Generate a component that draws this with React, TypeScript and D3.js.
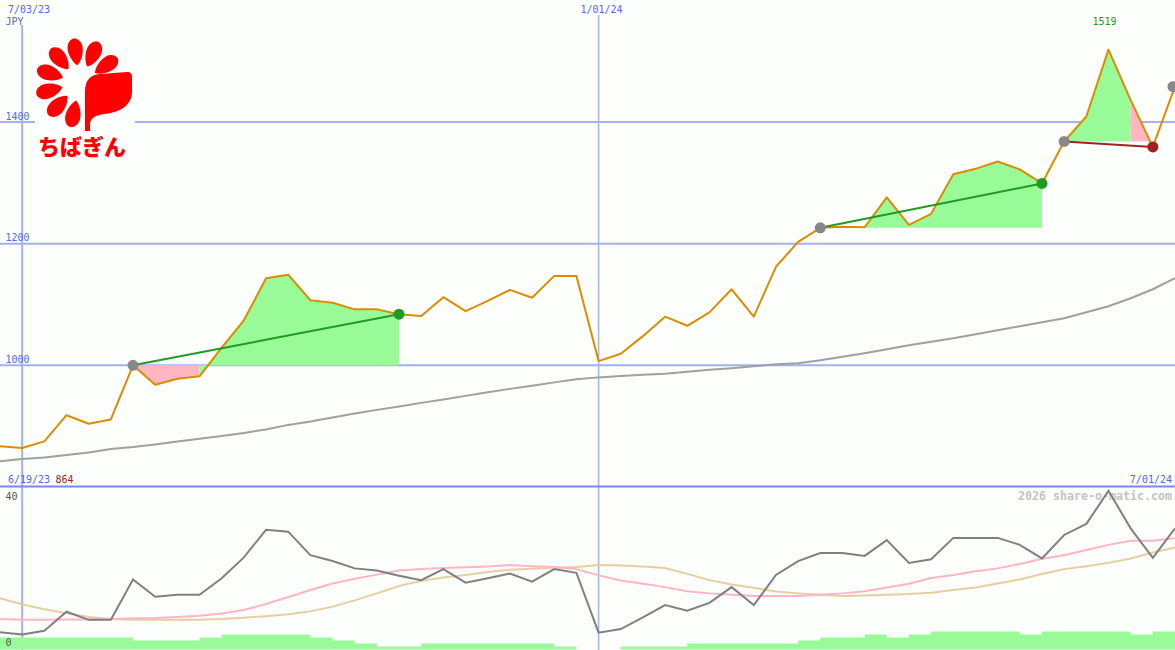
import React from 'react';
import * as d3 from 'd3';

const W = 1175;
const H = 650;

// weekly closes, 6/26/23 .. 7/01/24
const price = [
  867, 864, 875, 918, 904, 911, 1000, 968, 978, 982,
  1029, 1074, 1143, 1149, 1107, 1103, 1092, 1092, 1084, 1081,
  1112, 1089, 1106, 1124, 1111, 1147, 1147, 1007, 1019, 1048,
  1080, 1065, 1087, 1125, 1080, 1162, 1203, 1226, 1228, 1227,
  1276, 1231, 1249, 1314, 1323, 1335, 1322, 1299, 1368, 1409,
  1519, 1436, 1359, 1458,
];

// long moving average of the price (grey)
const priceMa = [
  842.5, 846.1, 848.6, 852.7, 856.8, 862.6, 865.9, 870.0, 874.9, 879.3,
  884.0, 888.9, 894.7, 902.1, 907.8, 914.4, 921.0, 926.8, 932.5, 938.3,
  944.0, 949.8, 955.6, 961.3, 966.3, 972.0, 977.0, 980.2, 982.4, 984.4,
  986.0, 989.3, 992.6, 995.1, 998.4, 1001.6, 1003.3, 1008.2, 1014.0, 1019.8,
  1026.3, 1032.9, 1038.7, 1044.4, 1051.0, 1057.6, 1064.2, 1070.8, 1077.4, 1087.2,
  1097.1, 1110.3, 1125.1, 1143.2,
];

// volume level per week
const volume = [
  4, 4, 4, 4, 4, 4, 3, 3, 3, 4,
  5, 5, 5, 5, 4, 3, 2, 1, 1, 2,
  2, 2, 2, 2, 2, 1, 0, 0, 1, 1,
  1, 2, 2, 2, 2, 2, 3, 4, 4, 5,
  4, 5, 6, 6, 6, 6, 5, 6, 6, 6,
  6, 5, 6, 6,
];

// lower indicator (grey) and its two averages (pink, tan)
const ind = [
  4.4, 3.8, 4.8, 10.0, 7.8, 7.8, 18.8, 14.1, 14.6, 14.6,
  19.1, 24.8, 32.3, 31.8, 25.4, 23.8, 21.8, 21.2, 19.8, 18.6,
  21.6, 17.9, 19.1, 20.4, 18.2, 21.6, 20.6, 4.3, 5.3, 8.5,
  11.8, 10.3, 12.4, 16.7, 11.8, 20.0, 23.8, 26.0, 26.0, 25.2,
  29.5, 23.3, 24.3, 30.1, 30.1, 30.1, 28.2, 24.5, 30.9, 33.9,
  42.9, 32.7, 24.7, 32.7,
];
const indMaFast = [
  8.0, 7.8, 7.8, 7.9, 7.9, 8.0, 8.2, 8.3, 8.6, 8.9,
  9.5, 10.5, 12.1, 14.0, 15.9, 17.7, 19.0, 20.1, 21.2, 21.6,
  21.9, 22.1, 22.3, 22.7, 22.4, 22.2, 21.6, 19.9, 18.5, 17.6,
  16.7, 15.6, 15.0, 14.6, 14.3, 14.3, 14.3, 14.6, 15.0, 15.6,
  16.6, 17.6, 19.2, 20.0, 21.0, 21.8, 23.0, 24.4, 25.4, 26.8,
  28.2, 29.3, 29.3, 30.0,
];
const indMaSlow = [
  13.7, 12.0, 10.7, 9.6, 8.6, 8.0, 7.8, 7.8, 7.8, 7.8,
  8.0, 8.4, 8.8, 9.3, 10.1, 11.4, 13.1, 15.0, 17.0, 18.4,
  19.3, 20.0, 20.8, 21.4, 21.7, 22.0, 22.2, 22.7, 22.6, 22.3,
  21.9, 20.3, 18.6, 17.4, 16.5, 15.5, 15.0, 14.6, 14.3, 14.4,
  14.6, 14.8, 15.2, 15.9, 16.6, 17.7, 18.8, 20.3, 21.6, 22.4,
  23.3, 24.5, 26.1, 27.5,
];

const priceTicks = [1000, 1200, 1400];
const indTicks = [0, 40];
const dateMarks = [
  { idx: 1, label: '7/03/23' },
  { idx: 27, label: '1/01/24' },
];
const segments = [
  { start: 6, end: 18 },
  { start: 37, end: 47 },
  { start: 48, end: 52 },
];
const openPoint = 53;
const peakIdx = 50;
const startLabel = '6/19/23';
const minLabel = '864';
const endLabel = '7/01/24';
const currency = 'JPY';
const watermark = '2026 share-o-matic.com';
const logoText = 'ちばぎん';

const BG = '#fbfefb';
const GRID = '#a5b0f3';
const BLUE_TXT = '#5566ee';
const MONO = '"DejaVu Sans Mono", "Liberation Mono", monospace';
const GREEN_FILL = '#98fb98';
const PINK_FILL = '#ffb6c1';

const PETAL = 'M0,13 C-4,10 -8,2 -7.5,-5 C-7,-11 -3,-14 0,-14 C3,-14 7,-11 7.5,-5 C8,2 4,10 0,13 Z';

export default function App() {
  const x = d3.scaleLinear().domain([0, price.length - 1]).range([0, W]);
  const y = d3.scaleLinear().domain([800, 1400]).range([487, 122]);
  const yi = d3.scaleLinear().domain([0, 40]).range([648.5, 501.5]);
  const yv = d3.scaleLinear().domain([0, 6]).range([649.5, 631.5]);

  const priceLine = d3.line<number>().x((_, i) => x(i)).y((d) => y(d));
  const indLine = d3.line<number>().x((_, i) => x(i)).y((d) => yi(d));
  const volArea = d3
    .area<number>()
    .curve(d3.curveStepAfter)
    .x((_, i) => x(i))
    .y0(yv(0))
    .y1((d) => yv(d));

  // fills for each trend segment: consecutive weeks of the same colour merged
  const fills: { d: string; color: string }[] = [];
  segments.forEach((s) => {
    const base = price[s.start];
    let run: number[] = [s.start];
    let runColor = price[s.start + 1] >= base ? GREEN_FILL : PINK_FILL;
    const flush = () => {
      const a = d3
        .area<number>()
        .x((k) => x(k))
        .y0(y(base))
        .y1((k) => y(price[k]));
      fills.push({ d: a(run) || '', color: runColor });
    };
    for (let i = s.start; i < s.end; i++) {
      const c = price[i + 1] >= base ? GREEN_FILL : PINK_FILL;
      if (c !== runColor) {
        flush();
        run = [i];
        runColor = c;
      }
      run.push(i + 1);
    }
    flush();
  });

  // logo geometry
  const fc = { x: 80, y: 83 };
  const petalAngles = d3.range(8).map((k) => -34 - 32 * k);

  return (
    <svg
      width={W}
      height={H}
      style={{ position: 'absolute', left: 0, top: 0, background: BG }}
      xmlns="http://www.w3.org/2000/svg"
    >
      <rect x={0} y={0} width={W} height={H} fill={BG} />

      {/* horizontal grid */}
      {priceTicks.map((t) => (
        <line key={t} x1={0} x2={W} y1={y(t)} y2={y(t)} stroke={GRID} strokeWidth={2} />
      ))}
      {/* vertical date lines */}
      {dateMarks.map((m, k) => (
        <line
          key={m.label}
          x1={x(m.idx)}
          x2={x(m.idx)}
          y1={k === 0 ? 25 : 15}
          y2={H}
          stroke={GRID}
          strokeWidth={k === 0 ? 2 : 1.5}
        />
      ))}

      {/* logo */}
      <rect x={35} y={30} width={100} height={132} fill={BG} />
      <g fill="#ff0000">
        {petalAngles.map((a) => {
          const r = (a * Math.PI) / 180;
          const cx = fc.x + 31 * Math.cos(r);
          const cy = fc.y + 31 * Math.sin(r);
          return <path key={a} d={PETAL} transform={`translate(${cx} ${cy}) rotate(${a + 90})`} />;
        })}
        <path d="M85,131 L85,92 C85,80 90,75 100,74 L127,72 C131,72 132,74 132,77 L132,92 C132,106 118,113 104,114 C96,115 91,118 90,123 L90,131 Z" />
        <text
          x={38}
          y={155}
          fontFamily='"Noto Sans CJK JP", sans-serif'
          fontWeight={900}
          fontSize={22}
          fill="#ff0000"
        >
          {logoText}
        </text>
      </g>

      {/* trend fills */}
      {fills.map((f, k) => (
        <path key={k} d={f.d} fill={f.color} stroke="none" />
      ))}

      {/* price MA */}
      <path d={priceLine(priceMa) || ''} fill="none" stroke="#a0a0a0" strokeWidth={2} />
      {/* price */}
      <path d={priceLine(price) || ''} fill="none" stroke="#dd8c00" strokeWidth={2} strokeLinejoin="round" />

      {/* trend lines */}
      {segments.map((s) => {
        const up = price[s.end] >= price[s.start];
        return (
          <line
            key={s.start}
            x1={x(s.start)}
            y1={y(price[s.start])}
            x2={x(s.end)}
            y2={y(price[s.end])}
            stroke={up ? '#229922' : '#a52020'}
            strokeWidth={2}
          />
        );
      })}
      {segments.map((s) => {
        const up = price[s.end] >= price[s.start];
        return (
          <g key={'d' + s.start}>
            <circle cx={x(s.start)} cy={y(price[s.start])} r={5.5} fill="#888888" />
            <circle cx={x(s.end)} cy={y(price[s.end])} r={5.5} fill={up ? '#229922' : '#a52020'} />
          </g>
        );
      })}
      <circle cx={x(openPoint) - 2} cy={y(price[openPoint])} r={5.5} fill="#888888" />

      {/* peak label */}
      <text
        x={x(peakIdx) - 4}
        y={25}
        textAnchor="middle"
        fontFamily={MONO}
        fontSize={10}
        fill="#229922"
      >
        {price[peakIdx]}
      </text>

      {/* price labels */}
      <text x={8} y={12.5} fontFamily={MONO} fontSize={10} fill={BLUE_TXT}>
        {dateMarks[0].label}
      </text>
      <text x={5.5} y={24.5} fontFamily={MONO} fontSize={10} fill={BLUE_TXT}>
        {currency}
      </text>
      <text x={x(dateMarks[1].idx) + 3} y={13} textAnchor="middle" fontFamily={MONO} fontSize={10} fill={BLUE_TXT}>
        {dateMarks[1].label}
      </text>
      {priceTicks.map((t) => (
        <text key={'t' + t} x={5.5} y={y(t) - 2.5} fontFamily={MONO} fontSize={10} fill={BLUE_TXT}>
          {t}
        </text>
      ))}

      {/* lower panel */}
      <text
        x={1172}
        y={500}
        textAnchor="end"
        fontFamily={MONO}
        fontWeight="bold"
        fontSize={12}
        fill="#c4c4c4"
        textLength={154}
        lengthAdjust="spacingAndGlyphs"
      >
        {watermark}
      </text>
      <path d={volArea(volume) || ''} fill={GREEN_FILL} />
      <path d={indLine(indMaSlow) || ''} fill="none" stroke="#e6cf9e" strokeWidth={2} />
      <path d={indLine(indMaFast) || ''} fill="none" stroke="#ffb4c8" strokeWidth={2} />
      <path d={indLine(ind) || ''} fill="none" stroke="#808080" strokeWidth={2} />
      {indTicks.map((t) => (
        <text key={'i' + t} x={5.5} y={t === 0 ? 645.7 : 499.5} fontFamily={MONO} fontSize={10} fill="#555555">
          {t}
        </text>
      ))}

      {/* divider */}
      <line x1={0} x2={W} y1={486.5} y2={486.5} stroke="#7b86f0" strokeWidth={2} />
      <text x={8} y={483} fontFamily={MONO} fontSize={10} fill={BLUE_TXT}>
        {startLabel}
      </text>
      <text x={55.5} y={483} fontFamily={MONO} fontSize={10} fill="#a52020">
        {minLabel}
      </text>
      <text x={1172} y={483} textAnchor="end" fontFamily={MONO} fontSize={10} fill={BLUE_TXT}>
        {endLabel}
      </text>
    </svg>
  );
}
